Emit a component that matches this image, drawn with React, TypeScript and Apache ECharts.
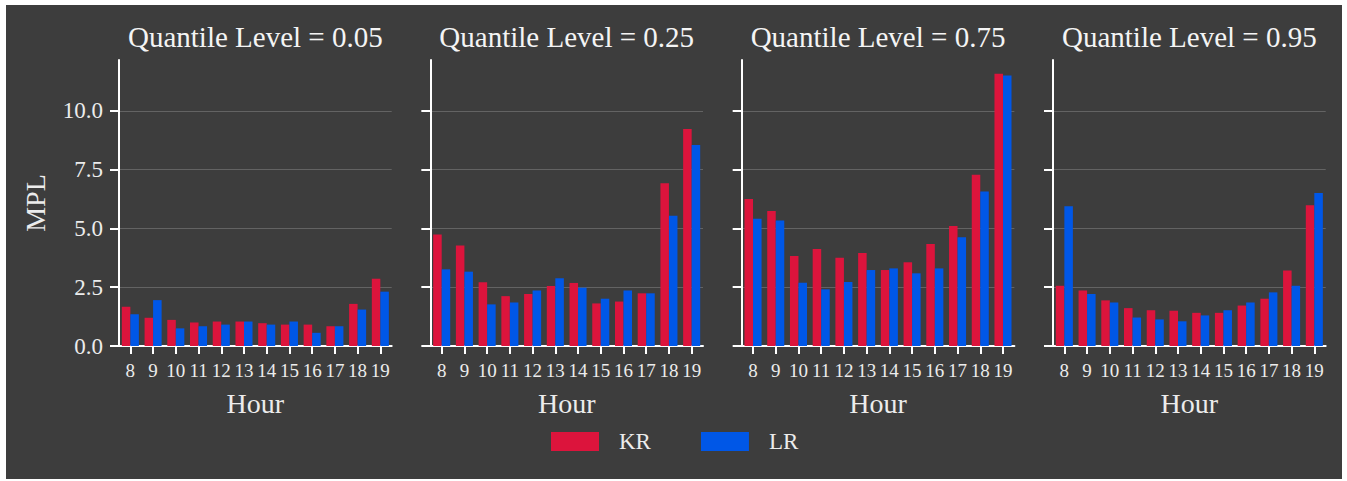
import React, { useEffect, useRef } from "react";
import * as echarts from "echarts";

const hours = ["8", "9", "10", "11", "12", "13", "14", "15", "16", "17", "18", "19"];
const levels = ["0.05", "0.25", "0.75", "0.95"];
const yTicks = [0, 2.5, 5, 7.5, 10];

const kr005 = [1.67, 1.2, 1.11, 1.0, 1.04, 1.04, 0.97, 0.91, 0.91, 0.84, 1.79, 2.86];
const lr005 = [1.35, 1.95, 0.75, 0.84, 0.91, 1.04, 0.91, 1.04, 0.56, 0.84, 1.55, 2.31];
const kr025 = [4.74, 4.27, 2.71, 2.12, 2.21, 2.55, 2.68, 1.81, 1.89, 2.24, 6.92, 9.23];
const lr025 = [3.26, 3.16, 1.77, 1.85, 2.36, 2.88, 2.48, 2.01, 2.36, 2.24, 5.54, 8.55];
const kr075 = [6.25, 5.74, 3.83, 4.12, 3.75, 3.95, 3.23, 3.56, 4.34, 5.1, 7.28, 11.58];
const lr075 = [5.41, 5.34, 2.69, 2.41, 2.72, 3.23, 3.3, 3.09, 3.3, 4.62, 6.57, 11.5];
const kr095 = [2.56, 2.36, 1.94, 1.61, 1.52, 1.5, 1.41, 1.41, 1.72, 2.01, 3.21, 5.98];
const lr095 = [5.94, 2.21, 1.85, 1.21, 1.13, 1.05, 1.3, 1.52, 1.85, 2.28, 2.56, 6.5];

const krData = [kr005, kr025, kr075, kr095];
const lrData = [lr005, lr025, lr075, lr095];

const KR_COLOR = "#DC143C";
const LR_COLOR = "#0057E7";
const BG = "#3d3d3d";
const TEXT = "#ececec";
const FONT = "'Liberation Serif', 'Times New Roman', serif";

export default function App() {
  const ref = useRef<HTMLDivElement>(null);
  useEffect(() => {
    if (!ref.current) return;
    const chart = echarts.init(ref.current, null, { renderer: "svg" });
    const panelLeft = 119;
    const panelStep = 311.33;
    const panelWidth = 272.7;
    const top = 60;
    const height = 286;

    const grids: any[] = [];
    const xAxes: any[] = [];
    const yAxes: any[] = [];
    const titles: any[] = [];
    const series: any[] = [];

    levels.forEach((lv, i) => {
      const left = panelLeft + i * panelStep;
      grids.push({ left, top, width: panelWidth, height, containLabel: false });
      titles.push({
        text: `Quantile Level = ${lv}`,
        left: left + panelWidth / 2,
        top: 22,
        padding: 0,
        textAlign: "center",
        textStyle: { fontFamily: FONT, fontSize: 29, fontWeight: "normal", color: "#f4f4f4" },
      });
      xAxes.push({
        type: "category",
        gridIndex: i,
        data: hours,
        boundaryGap: true,
        axisLine: { show: true, lineStyle: { color: "#ffffff", width: 2 } },
        axisTick: { show: true, alignWithLabel: true, length: 8, lineStyle: { color: "#ffffff", width: 2 } },
        axisLabel: { fontFamily: FONT, fontSize: 19, color: TEXT, margin: 15, interval: 0 },
        splitLine: { show: false },
        name: "Hour",
        nameLocation: "middle",
        nameGap: 43,
        nameTextStyle: { fontFamily: FONT, fontSize: 28, color: TEXT },
      });
      yAxes.push({
        type: "value",
        gridIndex: i,
        min: 0,
        max: 12.16,
        interval: 2.5,
        axisLine: { show: true, lineStyle: { color: "#ffffff", width: 2 } },
        axisTick: {
          show: true,
          length: 9,
          customValues: yTicks,
          lineStyle: { color: "#ffffff", width: 2 },
        },
        axisLabel: {
          show: i === 0,
          customValues: yTicks,
          fontFamily: FONT,
          fontSize: 23,
          color: TEXT,
          margin: 16,
          formatter: (v: number) => v.toFixed(1),
        },
        splitLine: {
          show: true,
          showMinLine: false,
          lineStyle: { color: "rgba(255,255,255,0.2)", width: 1.2 },
        },
        name: i === 0 ? "MPL" : "",
        nameLocation: "middle",
        nameGap: 70,
        nameTextStyle: { fontFamily: FONT, fontSize: 28, color: TEXT },
      });
      series.push({
        type: "bar",
        name: "KR",
        xAxisIndex: i,
        yAxisIndex: i,
        data: krData[i],
        itemStyle: { color: KR_COLOR },
        barGap: "0%",
        barCategoryGap: "25%",
      });
      series.push({
        type: "bar",
        name: "LR",
        xAxisIndex: i,
        yAxisIndex: i,
        data: lrData[i],
        itemStyle: { color: LR_COLOR },
        barGap: "0%",
        barCategoryGap: "25%",
      });
    });

    chart.setOption({
      animation: false,
      backgroundColor: "#ffffff",
      graphic: [
        {
          type: "rect",
          z: -100,
          silent: true,
          shape: { x: 6, y: 5, width: 1336, height: 474 },
          style: { fill: BG },
        },
      ],
      title: titles,
      grid: grids,
      xAxis: xAxes,
      yAxis: yAxes,
      legend: {
        data: ["KR", "LR"],
        left: 551,
        top: 430,
        padding: 0,
        itemWidth: 48,
        itemHeight: 19,
        itemGap: 50,
        icon: "rect",
        textStyle: { fontFamily: FONT, fontSize: 23, color: TEXT, padding: [0, 0, 0, 15] },
      },
      series,
    });
    return () => chart.dispose();
  }, []);
  return (
    <div
      ref={ref}
      style={{ position: "absolute", left: 0, top: 0, width: 1347, height: 481 }}
    />
  );
}
